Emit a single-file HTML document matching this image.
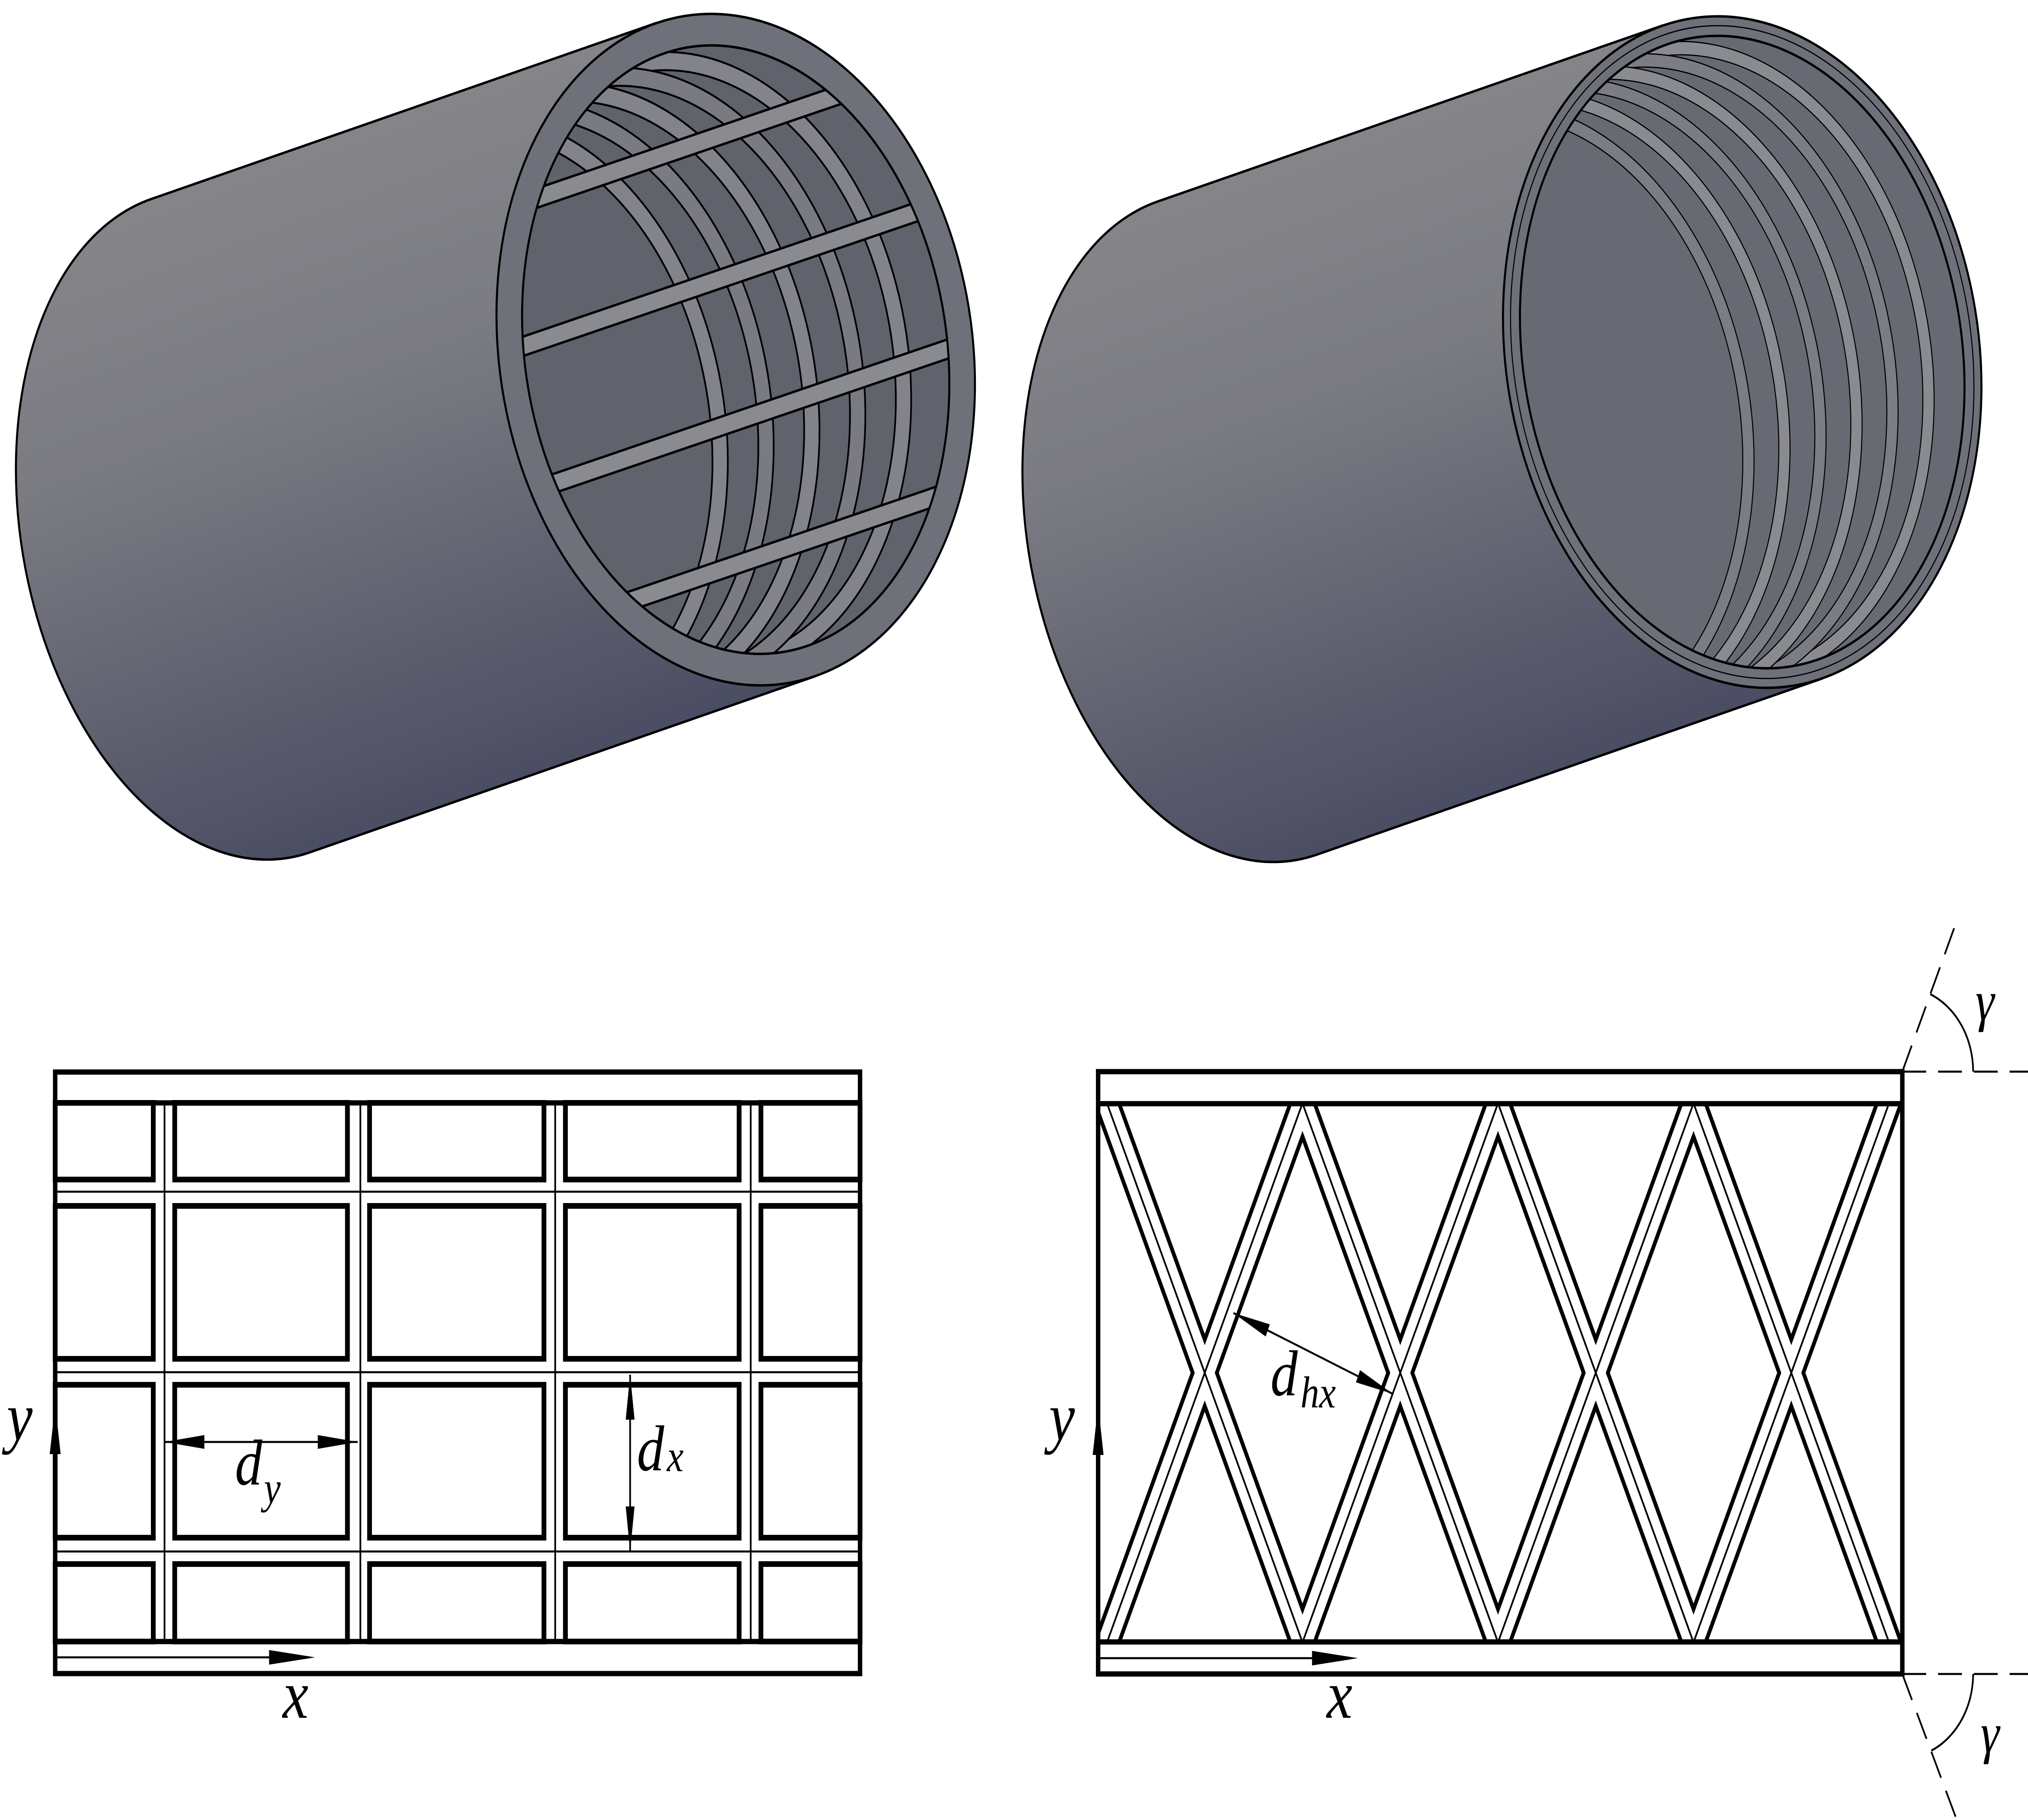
<!DOCTYPE html>
<html><head><meta charset="utf-8"><style>html,body{margin:0;padding:0;background:#fff;width:100%;height:100%;overflow:hidden}svg{display:block;width:100vw;height:100vh}</style></head><body>
<svg xmlns="http://www.w3.org/2000/svg" viewBox="0 0 5954 4487" preserveAspectRatio="none">
<defs>
<linearGradient id="bg" x1="0" y1="0" x2="0.35" y2="1">
<stop offset="0" stop-color="#8d8d90"/><stop offset="0.5" stop-color="#7b7c82"/><stop offset="1" stop-color="#4b4d63"/>
</linearGradient>
<clipPath id="inL"><ellipse cx="0" cy="0" rx="615" ry="760"/></clipPath>
<clipPath id="inR"><ellipse cx="0" cy="0" rx="640" ry="790"/></clipPath>
<clipPath id="lat"><rect x="3224" y="2721" width="2361" height="1327"/></clipPath>
</defs>

<!-- Left cylinder -->
<g>
<path d="M443,491 L1926,57 L2394,1667 L911,2101 A610,838 -16 0 1 443,491 Z" fill="url(#bg)" stroke="#000" stroke-width="6"/>
<g transform="translate(2160,862) rotate(-16)">
<ellipse cx="0" cy="0" rx="690" ry="838" fill="#6f717a" stroke="#000" stroke-width="6"/>
<g clip-path="url(#inL)">
<rect x="-800" y="-900" width="1600" height="1800" fill="#60626c"/>
<g fill="none">
<ellipse cx="-140" cy="0" rx="615" ry="760" stroke="#000" stroke-width="50"/>
<ellipse cx="-140" cy="0" rx="615" ry="760" stroke="#83848b" stroke-width="40"/>
<ellipse cx="-280" cy="0" rx="615" ry="760" stroke="#000" stroke-width="50"/>
<ellipse cx="-280" cy="0" rx="615" ry="760" stroke="#7a7b82" stroke-width="40"/>
<ellipse cx="-420" cy="0" rx="615" ry="760" stroke="#000" stroke-width="50"/>
<ellipse cx="-420" cy="0" rx="615" ry="760" stroke="#83848b" stroke-width="40"/>
<ellipse cx="-560" cy="0" rx="615" ry="760" stroke="#000" stroke-width="50"/>
<ellipse cx="-560" cy="0" rx="615" ry="760" stroke="#7a7b82" stroke-width="40"/>
<ellipse cx="-700" cy="0" rx="615" ry="760" stroke="#000" stroke-width="50"/>
<ellipse cx="-700" cy="0" rx="615" ry="760" stroke="#83848b" stroke-width="40"/>
</g>
<g stroke-linecap="butt">
<line x1="-900" y1="-520" x2="900" y2="-520" stroke="#000" stroke-width="52"/>
<line x1="-900" y1="-520" x2="900" y2="-520" stroke="#8a8b91" stroke-width="40"/>
<line x1="-900" y1="-180" x2="900" y2="-180" stroke="#000" stroke-width="52"/>
<line x1="-900" y1="-180" x2="900" y2="-180" stroke="#8a8b91" stroke-width="40"/>
<line x1="-900" y1="170" x2="900" y2="170" stroke="#000" stroke-width="52"/>
<line x1="-900" y1="170" x2="900" y2="170" stroke="#8a8b91" stroke-width="40"/>
<line x1="-900" y1="510" x2="900" y2="510" stroke="#000" stroke-width="52"/>
<line x1="-900" y1="510" x2="900" y2="510" stroke="#8a8b91" stroke-width="40"/>
</g>
</g>
<ellipse cx="0" cy="0" rx="615" ry="760" fill="none" stroke="#000" stroke-width="6"/>
</g>
</g>

<!-- Right cylinder -->
<g transform="translate(2955,6)">
<path d="M443,491 L1926,57 L2394,1667 L911,2101 A610,838 -16 0 1 443,491 Z" fill="url(#bg)" stroke="#000" stroke-width="6"/>
<g transform="translate(2160,862) rotate(-16)">
<ellipse cx="0" cy="0" rx="690" ry="838" fill="#6f717a" stroke="#000" stroke-width="6"/>
<g clip-path="url(#inR)">
<rect x="-800" y="-900" width="1600" height="1800" fill="#686a73"/>
<g fill="none">
<ellipse cx="-110" cy="0" rx="640" ry="790" stroke="#000" stroke-width="36"/>
<ellipse cx="-110" cy="0" rx="640" ry="790" stroke="#8a8b90" stroke-width="30"/>
<ellipse cx="-220" cy="0" rx="640" ry="790" stroke="#000" stroke-width="36"/>
<ellipse cx="-220" cy="0" rx="640" ry="790" stroke="#7c7d84" stroke-width="30"/>
<ellipse cx="-330" cy="0" rx="640" ry="790" stroke="#000" stroke-width="36"/>
<ellipse cx="-330" cy="0" rx="640" ry="790" stroke="#8a8b90" stroke-width="30"/>
<ellipse cx="-440" cy="0" rx="640" ry="790" stroke="#000" stroke-width="36"/>
<ellipse cx="-440" cy="0" rx="640" ry="790" stroke="#7c7d84" stroke-width="30"/>
<ellipse cx="-550" cy="0" rx="640" ry="790" stroke="#000" stroke-width="36"/>
<ellipse cx="-550" cy="0" rx="640" ry="790" stroke="#8a8b90" stroke-width="30"/>
<ellipse cx="-660" cy="0" rx="640" ry="790" stroke="#000" stroke-width="36"/>
<ellipse cx="-660" cy="0" rx="640" ry="790" stroke="#7c7d84" stroke-width="30"/>
</g>
</g>
<ellipse cx="0" cy="0" rx="640" ry="790" fill="none" stroke="#000" stroke-width="6"/>
<ellipse cx="0" cy="0" rx="668" ry="815" fill="none" stroke="#000" stroke-width="3"/>
</g>
</g>

<!-- Bottom-left grid -->
<g fill="none" stroke="#000">
<g stroke-width="5">
<line x1="483" y1="2719" x2="483" y2="4047"/>
<line x1="1058" y1="2719" x2="1058" y2="4047"/>
<line x1="1630" y1="2719" x2="1630" y2="4047"/>
<line x1="2204" y1="2719" x2="2204" y2="4047"/>
<line x1="162" y1="2938" x2="2525" y2="2938"/>
<line x1="162" y1="3383" x2="2525" y2="3383"/>
<line x1="162" y1="3825" x2="2525" y2="3825"/>
</g>
<g stroke-width="14" fill="#fff">
<rect x="162" y="2719" width="288" height="189"/>
<rect x="513" y="2719" width="507" height="189"/>
<rect x="1085" y="2719" width="512" height="189"/>
<rect x="1660" y="2719" width="510" height="189"/>
<rect x="2234" y="2719" width="291" height="189"/>
<rect x="162" y="2973" width="288" height="377"/>
<rect x="513" y="2973" width="507" height="377"/>
<rect x="1085" y="2973" width="512" height="377"/>
<rect x="1660" y="2973" width="510" height="377"/>
<rect x="2234" y="2973" width="291" height="377"/>
<rect x="162" y="3414" width="288" height="377"/>
<rect x="513" y="3414" width="507" height="377"/>
<rect x="1085" y="3414" width="512" height="377"/>
<rect x="1660" y="3414" width="510" height="377"/>
<rect x="2234" y="3414" width="291" height="377"/>
<rect x="162" y="3856" width="288" height="191"/>
<rect x="513" y="3856" width="507" height="191"/>
<rect x="1085" y="3856" width="512" height="191"/>
<rect x="1660" y="3856" width="510" height="191"/>
<rect x="2234" y="3856" width="291" height="191"/>
</g>
<rect x="162" y="2643" width="2363" height="1483" stroke-width="13"/>
<line x1="162" y1="2719" x2="2525" y2="2719" stroke-width="13"/>
<line x1="162" y1="4047" x2="2525" y2="4047" stroke-width="13"/>
<g stroke-width="5">
<line x1="483" y1="3555" x2="1050" y2="3555"/>
<line x1="1850" y1="3389" x2="1850" y2="3825"/>
<line x1="162" y1="4086" x2="830" y2="4086"/>
</g>
</g>
<g fill="#000">
<polygon points="483,3555 600,3538 600,3572"/>
<polygon points="1050,3555 933,3538 933,3572"/>
<polygon points="1850,3389 1837,3500 1863,3500"/>
<polygon points="1850,3825 1837,3714 1863,3714"/>
<polygon points="162,3462 146,3585 178,3585"/>
<polygon points="925,4086 790,4068 790,4104"/>
</g>
<g font-family="Liberation Serif, serif" font-style="italic" fill="#000">
<text x="690" y="3660" font-size="160">d</text><text x="775" y="3705" font-size="110">y</text>
<text x="1870" y="3625" font-size="160">d</text><text x="1958" y="3627" font-size="110">x</text>
<text x="20" y="3550" font-size="170">y</text>
<text x="830" y="4235" font-size="170">x</text>
</g>

<!-- Bottom-right lattice -->
<g clip-path="url(#lat)" fill="none" stroke-linecap="butt">
<g stroke="#000" stroke-width="76">
<line x1="3193" y1="2588" x2="3881" y2="4181"/><line x1="3767" y1="2588" x2="4455" y2="4181"/><line x1="4341" y1="2588" x2="5029" y2="4181"/><line x1="4915" y1="2588" x2="5603" y2="4181"/>
<line x1="3881" y1="2588" x2="3193" y2="4181"/><line x1="4455" y1="2588" x2="3767" y2="4181"/><line x1="5029" y1="2588" x2="4341" y2="4181"/><line x1="5603" y1="2588" x2="4915" y2="4181"/>
</g>
<g stroke="#fff" stroke-width="54">
<line x1="3193" y1="2588" x2="3881" y2="4181"/><line x1="3767" y1="2588" x2="4455" y2="4181"/><line x1="4341" y1="2588" x2="5029" y2="4181"/><line x1="4915" y1="2588" x2="5603" y2="4181"/>
<line x1="3881" y1="2588" x2="3193" y2="4181"/><line x1="4455" y1="2588" x2="3767" y2="4181"/><line x1="5029" y1="2588" x2="4341" y2="4181"/><line x1="5603" y1="2588" x2="4915" y2="4181"/>
</g>
<g stroke="#000" stroke-width="5">
<line x1="3193" y1="2588" x2="3881" y2="4181"/><line x1="3767" y1="2588" x2="4455" y2="4181"/><line x1="4341" y1="2588" x2="5029" y2="4181"/><line x1="4915" y1="2588" x2="5603" y2="4181"/>
<line x1="3881" y1="2588" x2="3193" y2="4181"/><line x1="4455" y1="2588" x2="3767" y2="4181"/><line x1="5029" y1="2588" x2="4341" y2="4181"/><line x1="5603" y1="2588" x2="4915" y2="4181"/>
</g>
</g>
<g fill="none" stroke="#000">
<rect x="3224" y="2642" width="2361" height="1485" stroke-width="13"/>
<line x1="3224" y1="2721" x2="5585" y2="2721" stroke-width="13"/>
<line x1="3224" y1="4048" x2="5585" y2="4048" stroke-width="13"/>
<g stroke-width="5">
<line x1="3224" y1="4088" x2="3900" y2="4088"/>
<line x1="3621" y1="3237" x2="4088" y2="3436"/>
</g>
<g stroke-width="5" stroke-dasharray="70,35">
<line x1="5585" y1="2642" x2="5745" y2="2270"/>
<line x1="5585" y1="2642" x2="5954" y2="2642"/>
<line x1="5585" y1="4127" x2="5745" y2="4487"/>
<line x1="5585" y1="4127" x2="5954" y2="4127"/>
</g>
<path d="M5667,2451 A208,208 0 0 1 5793,2642" stroke-width="5"/>
<path d="M5793,4127 A208,208 0 0 1 5670,4316" stroke-width="5"/>
</g>
<g fill="#000">
<polygon points="3224,3464 3208,3587 3240,3587"/>
<polygon points="3987,4088 3852,4070 3852,4106"/>
<polygon points="3621,3237 3728,3265 3716,3295"/>
<polygon points="4088,3436 3993,3378 3981,3408"/>
</g>
<g font-family="Liberation Serif, serif" font-style="italic" fill="#000">
<text x="3730" y="3440" font-size="160">d</text><text x="3818" y="3470" font-size="110">hx</text>
<text x="3080" y="3550" font-size="170">y</text>
<text x="3895" y="4235" font-size="170">x</text>
<text x="5800" y="2515" font-size="140">γ</text>
<text x="5815" y="4320" font-size="140">γ</text>
</g>
</svg>
</body></html>
